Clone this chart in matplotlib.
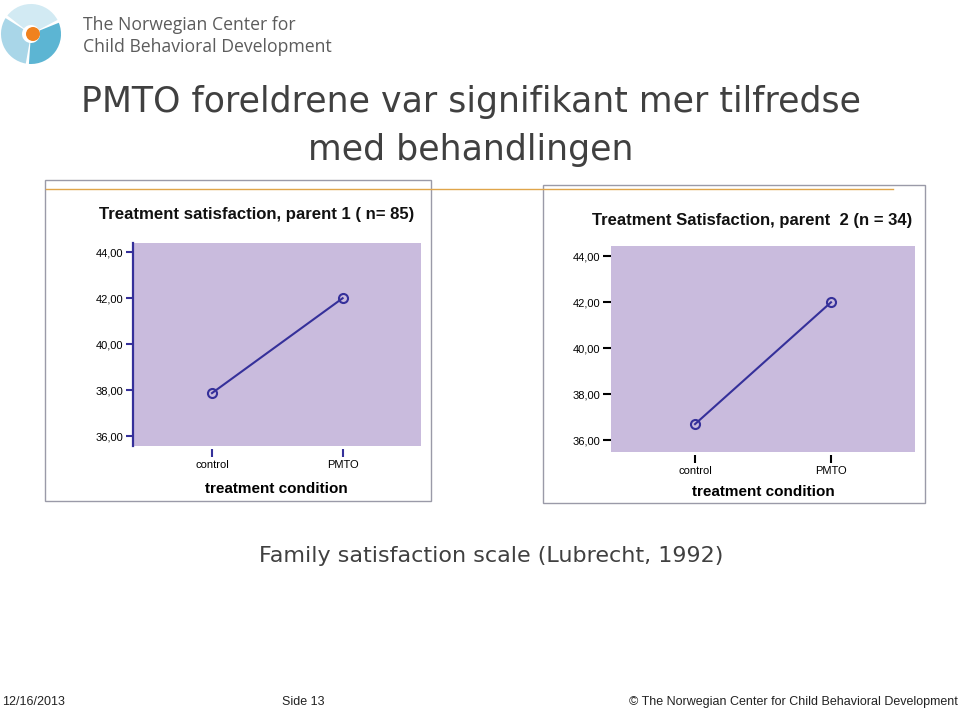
import matplotlib
matplotlib.use("Agg")
import matplotlib.pyplot as plt
from matplotlib.patches import Rectangle, Wedge, Circle
from matplotlib.lines import Line2D

W, H = 960, 711

# ---- data ----
categories = ["control", "PMTO"]
parent1_values = [37.87, 42.0]
parent2_values = [36.7, 42.0]
yticks = [36, 38, 40, 42, 44]
ytick_labels = ["36,00", "38,00", "40,00", "42,00", "44,00"]
title1 = "Treatment satisfaction, parent 1 ( n= 85)"
title2 = "Treatment Satisfaction, parent  2 (n = 34)"
xlabel = "treatment condition"
main_title = "PMTO foreldrene var signifikant mer tilfredse\nmed behandlingen"
subtitle = "Family satisfaction scale (Lubrecht, 1992)"

PURPLE = "#c9bbdd"
NAVY = "#35309a"
SANS = ["Liberation Sans", "DejaVu Sans"]


def rect(x0, y0, x1, y1):
    return [x0 / W, 1 - y1 / H, (x1 - x0) / W, (y1 - y0) / H]


fig = plt.figure(figsize=(W / 100, H / 100), dpi=100)
fig.patch.set_facecolor("white")

# background overlay axes for frames / lines
bg = fig.add_axes([0, 0, 1, 1])
bg.set_xlim(0, W)
bg.set_ylim(H, 0)
bg.axis("off")

# frames
bg.add_patch(Rectangle((45, 180), 386, 321, fill=False, edgecolor="#9a9aa8", lw=1.0))
bg.add_patch(Rectangle((543, 185), 382, 318, fill=False, edgecolor="#9a9aa8", lw=1.0))
bg.add_line(Line2D([46, 893], [189, 189], color="#e0a54a", lw=1.0))

# logo
bg.add_patch(Wedge((31, 34), 30, 100, 212, width=21, facecolor="#a9d6e8", edgecolor="none"))
bg.add_patch(Wedge((31, 34), 30, 218, 332, width=21, facecolor="#d2eaf3", edgecolor="none"))
bg.add_patch(Wedge((31, 34), 30, 338, 454, width=21, facecolor="#5cb5d3", edgecolor="none"))
bg.add_patch(Circle((33, 34), 7, facecolor="#f0821e", edgecolor="none"))
bg.text(83, 25, "The Norwegian Center for", fontsize=12.7, color="#5c5c5c",
        family=["Open Sans", "DejaVu Sans"], va="center", ha="left")
bg.text(83, 47, "Child Behavioral Development", fontsize=12.7, color="#5c5c5c",
        family=["Open Sans", "DejaVu Sans"], va="center", ha="left")

# main title
bg.text(471, 126, main_title, fontsize=25, color="#404040", ha="center", va="center",
        family=["DejaVu Sans"], linespacing=1.5)
bg.text(491, 556, subtitle, fontsize=16, color="#404040", ha="center", va="center",
        family=["DejaVu Sans"])

# footer
bg.text(2, 702, "12/16/2013", fontsize=9, color="#222222", ha="left", va="center", family=SANS)
bg.text(282, 702, "Side 13", fontsize=9, color="#222222", ha="left", va="center", family=SANS)
bg.text(958, 702, "\u00a9 The Norwegian Center for Child Behavioral Development", fontsize=9,
        color="#222222", ha="right", va="center", family=SANS)

# chart titles
bg.text(257, 214, title1, fontsize=12.1, fontweight="bold", ha="center", va="center",
        family=SANS, color="#111111")
bg.text(752, 220, title2, fontsize=12, fontweight="bold", ha="center", va="center",
        family=SANS, color="#111111")


def make_chart(r, values, ylim, xlim, tickcolor, left_spine, labelpad):
    ax = fig.add_axes(r)
    ax.set_facecolor(PURPLE)
    for s in ["top", "right", "bottom"]:
        ax.spines[s].set_visible(False)
    ax.spines["bottom"].set_position(("outward", 2.5))
    x = list(range(len(categories)))
    ax.plot(x, values, color=NAVY, lw=1.5, marker="o", ms=6.5, mfc="none", mec=NAVY, mew=1.5,
            clip_on=False)
    ax.set_xlim(*xlim)
    ax.set_ylim(*ylim)
    ax.set_xticks(x)
    ax.set_xticklabels(categories, fontsize=8, family=SANS)
    ax.set_yticks(yticks)
    ax.set_yticklabels(ytick_labels, fontsize=8, family=SANS)
    if left_spine:
        ax.spines["left"].set_color(NAVY)
        ax.spines["left"].set_linewidth(1.6)
    else:
        ax.spines["left"].set_visible(False)
    ax.tick_params(axis="x", length=5.5, width=1.5, color=tickcolor, pad=2.5)
    ax.tick_params(axis="y", length=5 if left_spine else 6, width=1.5, color=tickcolor, pad=2)
    ax.set_xlabel(xlabel, fontsize=11, fontweight="bold", family=SANS, labelpad=labelpad)
    return ax


make_chart(rect(132.7, 243.3, 421, 445.7), parent1_values, (35.58, 44.39), (-0.607, 1.6),
           NAVY, True, 8.5)
make_chart(rect(611, 246, 915, 451.7), parent2_values, (35.5, 44.45), (-0.618, 1.618),
           "black", False, 6)

fig.savefig("out.png", dpi=100)
